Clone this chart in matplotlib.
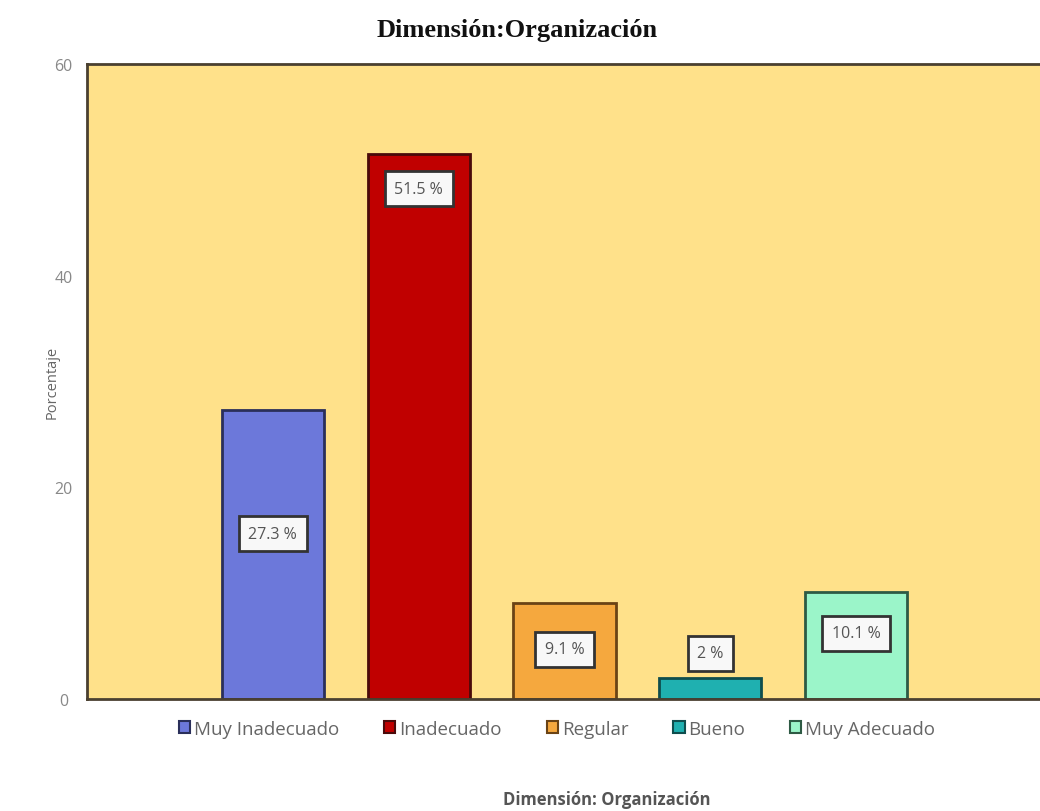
import numpy as np
import matplotlib.pyplot as plt
from matplotlib.patches import Patch

# Frequencies (%) per category
categorias = ['Muy Inadecuado', 'Inadecuado', 'Regular', 'Bueno', 'Muy Adecuado']
porcentajes = [27.3, 51.5, 9.1, 2.0, 10.1]
etiquetas = ['27.3 %', '51.5 %', '9.1 %', '2 %', '10.1 %']

colores = ['#6C78DA', '#C00000', '#F5A83E', '#1FB0B0', '#9BF5C9']
bordes = ['#2A2F5A', '#4A0A0A', '#6A4315', '#0F4D4D', '#2E5A44']
# label box heights inside/above bars (data units)
pos_etiqueta = [15.6, 48.2, 4.7, 4.3, 6.2]

plt.rcParams['font.family'] = ['Open Sans', 'DejaVu Sans']

fig = plt.figure(figsize=(10.4, 8.12), dpi=100)
ax = fig.add_axes([87/1040, 1-700/812, 1000/1040, 635/812])
ax.set_facecolor('#FFE18A')

x = np.arange(len(categorias))
ax.bar(x, porcentajes, width=0.7, color=colores, edgecolor=bordes, linewidth=2, zorder=2)

for xi, yi, txt in zip(x, pos_etiqueta, etiquetas):
    ax.text(xi, yi, txt, ha='center', va='center', fontsize=11.5, color='#555555',
            bbox=dict(boxstyle='square,pad=0.6', fc='#F8F8F8', ec='#333333', lw=2), zorder=3)

ax.set_xlim(-1.274, 4 + (1087 - 856) / 146)
ax.set_ylim(0, 60)
ax.set_yticks([0, 20, 40, 60])
ax.set_xticks([])
ax.tick_params(axis='y', length=0, labelsize=11.5, labelcolor='#888888', pad=17)
for lbl in ax.get_yticklabels():
    lbl.set_horizontalalignment('center')
for s in ['top', 'left', 'bottom', 'right']:
    ax.spines[s].set_color('#4A4030')
    ax.spines[s].set_linewidth(2)

ax.set_ylabel('Porcentaje', fontsize=10.5, color='#666666', labelpad=-4)

fig.text(517/1040, 1-30/812, 'Dimensión:Organización', ha='center', va='center',
         fontsize=19, fontweight='bold', family='Liberation Serif', color='#111111')

handles = [Patch(facecolor=c, edgecolor=e, linewidth=1.5) for c, e in zip(colores, bordes)]
fig.legend(handles, categorias, loc='center', bbox_to_anchor=(557/1040, 1-730/812), ncol=5,
           frameon=False, fontsize=13.5, handlelength=0.6, handleheight=0.6,
           handletextpad=0.2, columnspacing=2.4, labelcolor='#666666')

fig.text(607/1040, 1-800/812, 'Dimensión: Organización', ha='center', va='center',
         fontsize=12, fontweight='bold', color='#555555')

plt.savefig('out.png', dpi=100)
